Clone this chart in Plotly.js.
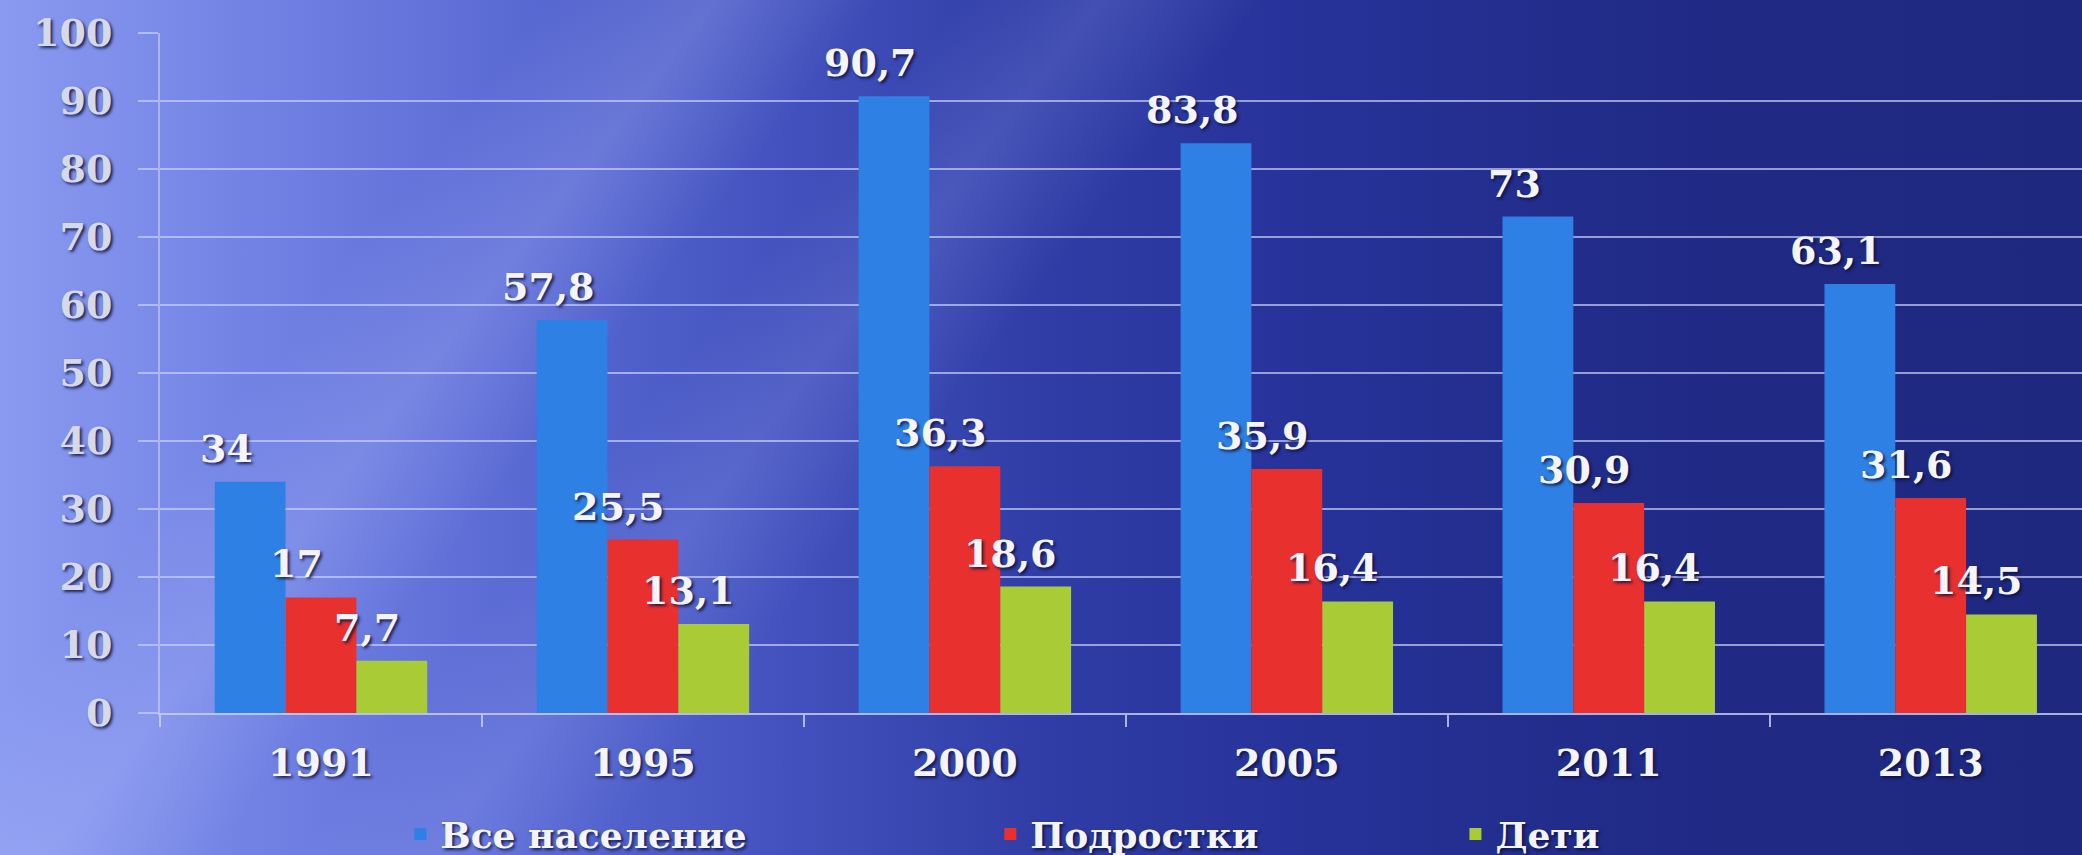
<!DOCTYPE html>
<html>
<head>
<meta charset="utf-8">
<script src="https://cdn.plot.ly/plotly-3.0.1.min.js"></script>
<style>
html, body { margin: 0; padding: 0; width: 2082px; height: 855px; overflow: hidden; }
body {
  background:
    linear-gradient(128deg, rgba(255,255,255,0) 20%, rgba(190,200,255,0.22) 26%, rgba(255,255,255,0) 32%),
    linear-gradient(128deg, rgba(255,255,255,0) 35%, rgba(180,190,255,0.16) 40%, rgba(255,255,255,0) 46%),
    linear-gradient(90deg, #8a9af0 0%, #7282e4 12%, #5868d2 26%, #4251bd 38%, #303da6 50%, #27339a 62%, #212b88 78%, #1e287e 100%);
}
#chart { width: 2082px; height: 855px; }
</style>
</head>
<body>
<div id="chart"></div>
<script>
var categories = ["1991", "1995", "2000", "2005", "2011", "2013"];
var seriesNames = ["Все население", "Подростки", "Дети"];
var allPopulation = [34, 57.8, 90.7, 83.8, 73, 63.1];
var teenagers = [17, 25.5, 36.3, 35.9, 30.9, 31.6];
var children = [7.7, 13.1, 18.6, 16.4, 16.4, 14.5];
var yTicks = [0, 10, 20, 30, 40, 50, 60, 70, 80, 90, 100];

var colors = ["#2f80e4", "#e8302f", "#a9cb36"];
var seriesValues = [allPopulation, teenagers, children];
var legendIds = ["legend", "legend2", "legend3"];

var shadow = "2px 2px 3px rgba(10,15,60,0.85)";
var textFont = { family: "DejaVu Serif", size: 38, color: "#f4f4fa", weight: "bold", shadow: shadow };

var traces = seriesValues.map(function (vals, s) {
  return {
    type: "bar",
    name: seriesNames[s],
    x: categories,
    y: vals,
    marker: { color: colors[s] },
    legend: legendIds[s],
    hoverinfo: "skip"
  };
});

var annotations = [];
seriesValues.forEach(function (vals, s) {
  vals.forEach(function (v, i) {
    annotations.push({
      x: i, y: v, xref: "x", yref: "y",
      text: String(v).replace(".", ","),
      showarrow: false, yanchor: "bottom", xanchor: "center",
      xshift: (s - 1) * 70 - 24, yshift: 9,
      font: { family: "DejaVu Serif", size: 38, color: "#f4f4fa", weight: "bold", shadow: shadow }
    });
  });
});

function legendCfg(x) {
  return {
    orientation: "h", xanchor: "left", yanchor: "middle", x: x, y: -0.178,
    bgcolor: "rgba(0,0,0,0)",
    font: { family: "DejaVu Serif", size: 36, color: "#f4f4fa", weight: "bold", shadow: shadow },
    itemwidth: 30
  };
}

var layout = {
  width: 2082, height: 855,
  margin: { l: 160, r: 0, t: 33, b: 142, autoexpand: false },
  paper_bgcolor: "rgba(0,0,0,0)",
  plot_bgcolor: "rgba(0,0,0,0)",
  barmode: "group",
  bargap: 0.34,
  bargroupgap: 0.0,
  showlegend: true,
  legend: legendCfg(0.125),
  legend2: legendCfg(0.432),
  legend3: legendCfg(0.674),
  xaxis: {
    type: "category",
    range: [-0.5, 5.47],
    showgrid: false,
    showline: true, linecolor: "rgba(205,210,245,0.8)", linewidth: 2,
    ticks: "outside", tickson: "boundaries", ticklen: 12, tickwidth: 2,
    tickcolor: "rgba(205,210,245,0.8)",
    tickfont: textFont,
    ticklabelstandoff: 15,
    automargin: false,
    fixedrange: true
  },
  yaxis: {
    range: [0, 100],
    tickvals: yTicks,
    ticktext: yTicks.map(String),
    showgrid: true, gridcolor: "rgba(200,206,245,0.7)", gridwidth: 2,
    showline: true, linecolor: "rgba(205,210,245,0.6)", linewidth: 2,
    zeroline: false,
    ticks: "outside", ticklen: 20, tickwidth: 2, tickcolor: "rgba(200,206,245,0.7)",
    tickfont: { family: "DejaVu Serif", size: 38, color: "#d6d9e8", weight: "bold", shadow: shadow },
    ticklabelstandoff: 18,
    automargin: false,
    fixedrange: true
  },
  annotations: annotations
};

Plotly.newPlot("chart", traces, layout, { displayModeBar: false, staticPlot: true });
</script>
</body>
</html>
